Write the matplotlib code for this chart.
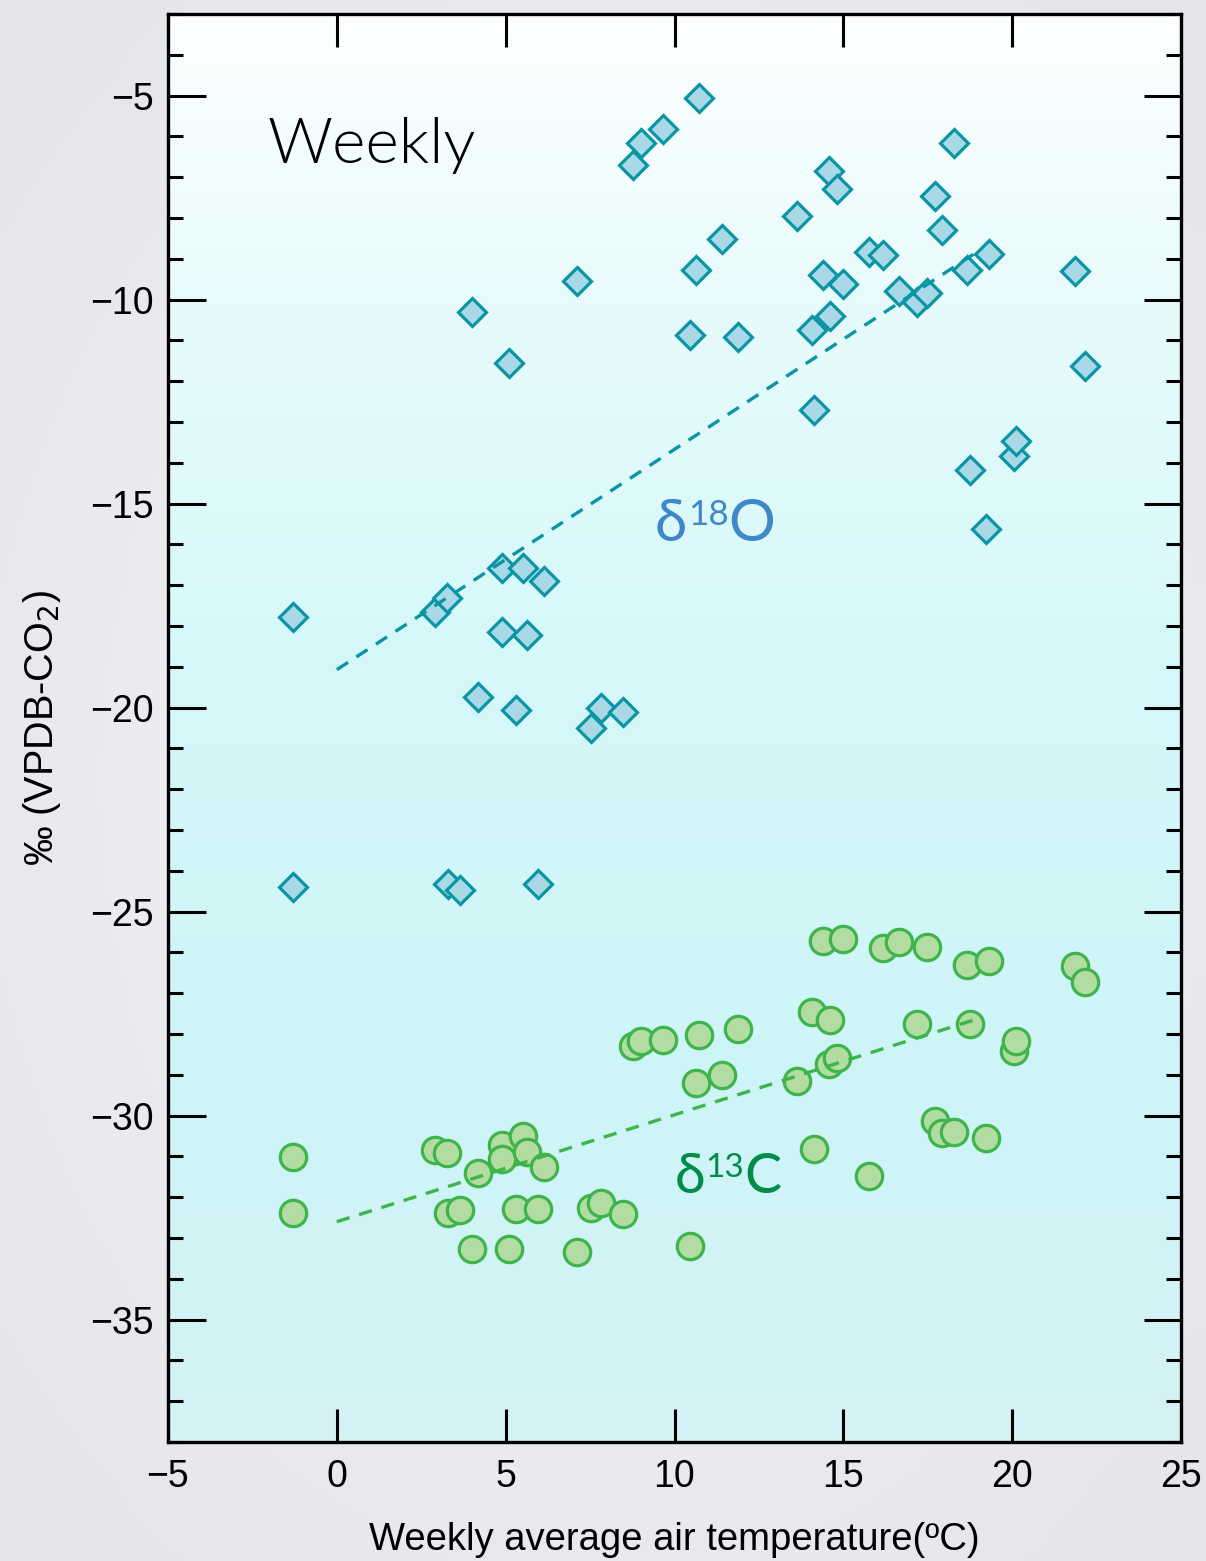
import numpy as np
import matplotlib
matplotlib.use("Agg")
import matplotlib.pyplot as plt
from matplotlib.colors import LinearSegmentedColormap

# ---------------- data ----------------
temperature = [-1.3, -1.3, 2.9, 3.25, 3.3, 3.64, 4.0, 4.18, 4.9, 4.9,
               5.09, 5.3, 5.51, 5.63, 5.95, 6.13, 7.12, 7.52, 7.83, 8.47,
               8.78, 9.02, 9.66, 10.46, 10.65, 10.72, 11.4, 11.88, 13.64, 14.07,
               14.12, 14.4, 14.58, 14.6, 14.82, 15.0, 15.77, 16.17, 16.65, 17.18,
               17.49, 17.72, 17.92, 18.28, 18.66, 18.75, 19.22, 19.3, 20.05, 20.1,
               21.87, 22.15]
d18O = [-17.77, -24.40, -17.65, -17.31, -24.33, -24.48, -10.31, -19.73, -16.57, -18.14,
        -11.56, -20.07, -16.57, -18.21, -24.33, -16.89, -9.55, -20.49, -20.00, -20.12,
        -6.71, -6.17, -5.81, -10.87, -9.28, -5.05, -8.52, -10.92, -7.96, -10.75,
        -12.71, -9.40, -6.86, -10.41, -7.28, -9.62, -8.84, -8.91, -9.80, -10.07,
        -9.84, -7.47, -8.30, -6.15, -9.28, -14.18, -15.62, -8.89, -13.83, -13.47,
        -9.31, -11.63]
d13C = [-31.01, -32.38, -30.84, -30.92, -32.39, -32.31, -33.28, -31.41, -30.72, -31.07,
        -33.28, -32.28, -30.50, -30.88, -32.28, -31.26, -33.34, -32.27, -32.14, -32.41,
        -28.29, -28.16, -28.15, -33.20, -29.20, -28.02, -29.00, -27.88, -29.14, -27.47,
        -30.81, -25.72, -28.73, -27.66, -28.60, -25.68, -31.47, -25.89, -25.74, -27.75,
        -25.86, -30.14, -30.43, -30.39, -26.31, -27.76, -30.54, -26.20, -28.42, -28.17,
        -26.33, -26.73]

# trend lines (intercept, slope) and x-range
trend_range = [0.0, 19.0]
trend_O = [-19.07, 0.54]
trend_C = [-32.60, 0.262]

x_ticks = [-5, 0, 5, 10, 15, 20, 25]
y_ticks = [-35, -30, -25, -20, -15, -10, -5]

# ---------------- figure ----------------
W, H = 1206, 1561
fig = plt.figure(figsize=(W / 100, H / 100), dpi=100)

# vignette background
bg = fig.add_axes([0, 0, 1, 1], zorder=-10)
yy, xx = np.mgrid[0:1:200j, 0:1:160j]
r = np.sqrt(((xx - 0.5) / 0.7) ** 2 + ((yy - 0.5) / 0.7) ** 2)
c_in = np.array([0.955, 0.958, 0.968])
c_out = np.array([0.895, 0.898, 0.915])
t = np.clip(r, 0, 1)[..., None]
img = c_in * (1 - t) + c_out * t
bg.imshow(img, extent=[0, 1, 0, 1], aspect="auto", origin="lower")
bg.set_axis_off()

ax = fig.add_axes([168 / W, 1 - 1442 / H, (1181 - 168) / W, (1442 - 14) / H])

# axes gradient (top white -> cyan)
cmap = LinearSegmentedColormap.from_list(
    "bgrad",
    [(0.0, "#d5f2f5"), (0.25, "#cdf5f8"), (0.55, "#d6f8fa"), (0.8, "#e8fbfc"), (1.0, "#fdffff")])
grad = np.linspace(0, 1, 256).reshape(-1, 1)
ax.imshow(grad, extent=[0, 1, 0, 1], transform=ax.transAxes, cmap=cmap,
          aspect="auto", origin="lower", zorder=0)

teal = "#0a95a5"
green_edge = "#3db54a"

ax.plot(temperature, d18O, linestyle="none", marker="D", markersize=14.5,
        markerfacecolor="#a9d9e6", markeredgecolor=teal, markeredgewidth=2.3, zorder=3)
ax.plot(temperature, d13C, linestyle="none", marker="o", markersize=19,
        markerfacecolor="#b3dca2", markeredgecolor=green_edge, markeredgewidth=2.3, zorder=3)

xr = np.array(trend_range)
ax.plot(xr, trend_O[0] + trend_O[1] * xr, linestyle=(0, (4, 3)), color=teal, lw=2.4, zorder=4)
ax.plot(xr, trend_C[0] + trend_C[1] * xr, linestyle=(0, (4, 3)), color=green_edge, lw=2.4, zorder=4)

ax.set_xlim(-5, 25)
ax.set_ylim(-38, -3)
ax.set_xticks(x_ticks)
ax.set_yticks(y_ticks)
ax.set_yticks(np.arange(-38, -2, 1), minor=True)

tickfont = "Liberation Sans"
ax.tick_params(axis="both", which="both", direction="in", top=True, right=True, width=2.2, color="black")
ax.tick_params(axis="y", which="major", length=27, pad=10, labelsize=27)
ax.tick_params(axis="y", which="minor", length=11)
ax.tick_params(axis="x", which="major", length=24, pad=12, labelsize=27)
for lab in ax.get_xticklabels() + ax.get_yticklabels():
    lab.set_fontfamily(tickfont)
for s in ax.spines.values():
    s.set_linewidth(2.4)
    s.set_zorder(5)

ax.set_xlabel("Weekly average air temperature(ºC)", fontsize=27.5, family=tickfont, labelpad=20)
ax.set_ylabel("‰ (VPDB-CO$_2$)", fontsize=28.5, family=tickfont, labelpad=20)

fam = ["Lato", "Noto Sans", "DejaVu Sans"]
ax.text(-2.05, -6.66, "Weekly", fontsize=46, family=fam, fontweight=300,
        va="baseline", ha="left", zorder=6)


def iso_label(x, y, sup, el, color, size):
    t1 = ax.text(x, y, "δ", fontsize=size, family=fam, color=color, va="baseline", ha="left", zorder=6)
    t2 = ax.annotate(sup, xy=(1.02, 0.98), xycoords=t1, fontsize=size * 0.6, family=fam,
                     color=color, va="top", ha="left", zorder=6)
    ax.annotate(el, xy=(1.0, 0.0), xycoords=(t2, t1), fontsize=size, family=fam,
                color=color, va="bottom", ha="left", zorder=6)


iso_label(9.42, -15.91, "18", "O", "#3e87c8", 42)
iso_label(10.0, -31.89, "13", "C", "#008c48", 40)

fig.savefig("out.png", dpi=100)
